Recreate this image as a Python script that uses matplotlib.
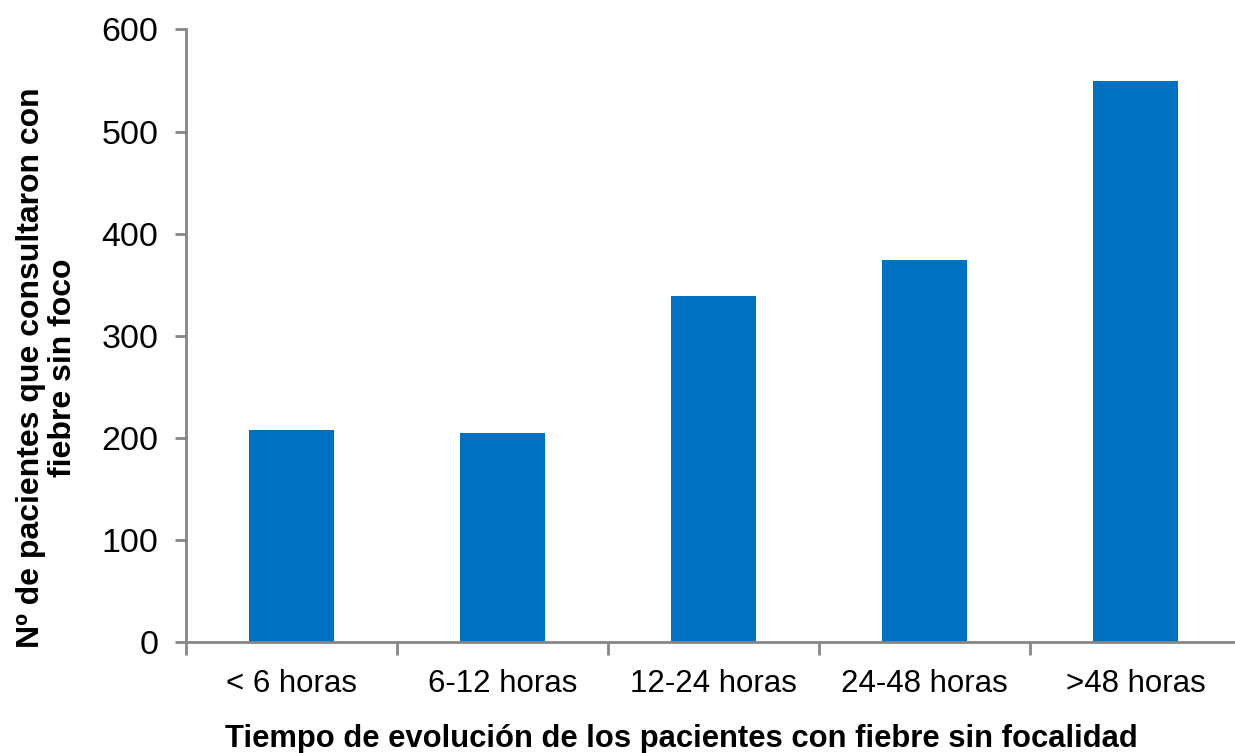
import matplotlib
matplotlib.use("Agg")
import matplotlib.pyplot as plt

# Data
categories = ["< 6 horas", "6-12 horas", "12-24 horas", "24-48 horas", ">48 horas"]
patients = [207, 205, 339, 374, 550]
y_ticks = [0, 100, 200, 300, 400, 500, 600]

plt.rcParams["font.family"] = ["Liberation Sans", "DejaVu Sans"]

W, H = 1235, 753
fig = plt.figure(figsize=(W / 100, H / 100), dpi=100)
left, right, bottom, top = 186, 1241, 641.7, 29.5
ax = fig.add_axes([left / W, 1 - bottom / H, (right - left) / W, (bottom - top) / H])

x = list(range(len(categories)))
ax.bar(x, patients, width=0.40, color="#0070C0", zorder=2)

ax.set_xlim(-0.5, len(categories) - 0.5)
ax.set_ylim(0, 600)
ax.set_yticks(y_ticks)
ax.set_yticklabels([str(v) for v in y_ticks], fontsize=24.5)

# category labels between boundary ticks
ax.set_xticks([i - 0.5 for i in range(len(categories) + 1)])
ax.set_xticklabels([])
ax.set_xticks(x, minor=True)
ax.set_xticklabels(categories, minor=True, fontsize=22.5)
ax.tick_params(axis="x", which="minor", length=0, pad=20)
ax.tick_params(axis="x", which="major", length=9, width=2, color="#868686", direction="out")
ax.tick_params(axis="y", length=8, width=2, color="#868686", direction="out", pad=12)

for side in ("top", "right"):
    ax.spines[side].set_visible(False)
for side in ("left", "bottom"):
    ax.spines[side].set_color("#868686")
    ax.spines[side].set_linewidth(2)

fig.text(681 / W, 1 - 739 / H, "Tiempo de evolución de los pacientes con fiebre sin focalidad",
         ha="center", va="center", fontsize=22.3, fontweight="bold")
fig.text(47 / W, 1 - 368 / H, "Nº de pacientes que consultaron con\nfiebre sin foco",
         ha="center", va="center", rotation=90, fontsize=23, fontweight="bold",
         linespacing=1.08, multialignment="center")

fig.savefig("out.png", dpi=100)
